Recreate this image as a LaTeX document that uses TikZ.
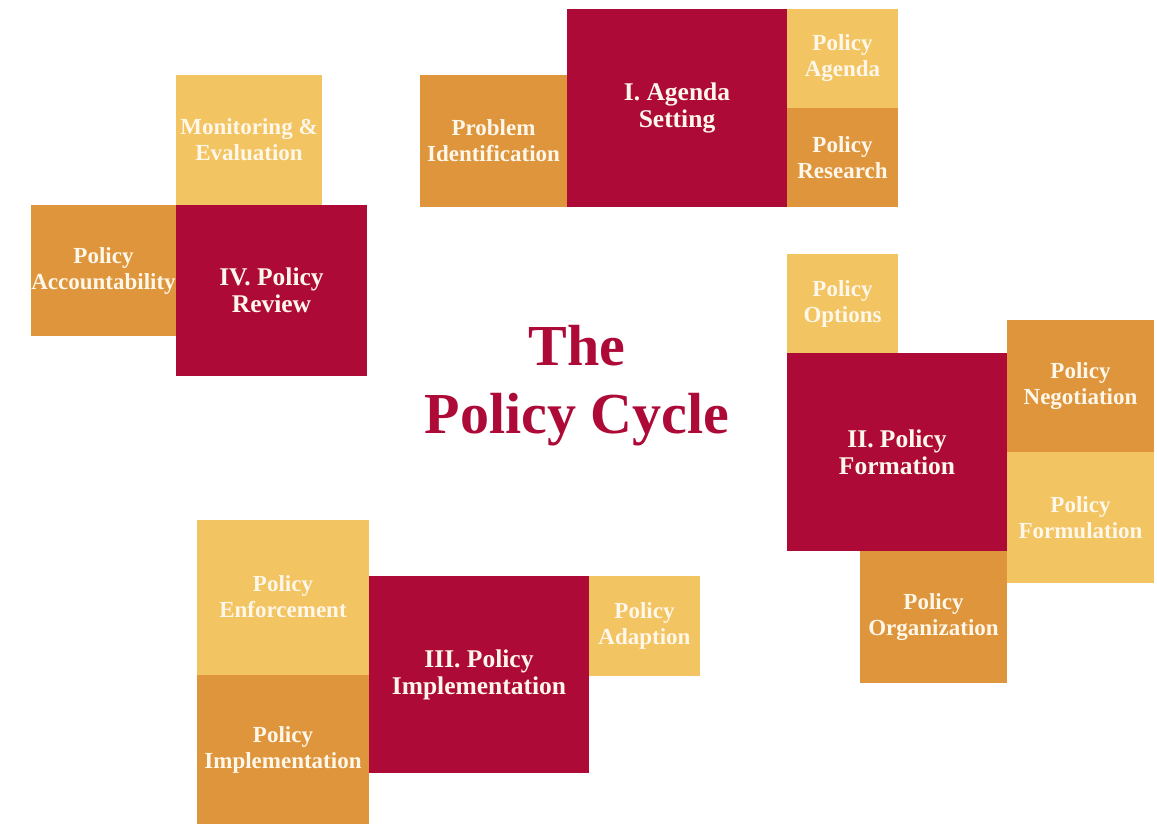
\documentclass[tikz,border=0pt]{standalone}
\usepackage{fontspec}
\setmainfont{Liberation Serif}
\usetikzlibrary{positioning}
\definecolor{cyclered}{HTML}{AD0A38}
\definecolor{cycleorange}{HTML}{DE953C}
\definecolor{cyclesand}{HTML}{F2C462}
\definecolor{cycletext}{HTML}{FFF7EA}
\tikzset{
	% Box styles for the cycle: big stage boxes and smaller step boxes
	stage box/.style={rectangle,fill=cyclered,text=cycletext,inner sep=0,outer sep=0,minimum width=220pt,minimum height=198pt,align=center,font=\bfseries\fontsize{25.5}{27}\selectfont},
	step box/.style={rectangle,text=cycletext,inner sep=0,outer sep=0,align=center,font=\bfseries\fontsize{23}{26}\selectfont},
	dark step/.style={step box,fill=cycleorange},
	light step/.style={step box,fill=cyclesand}
}

\begin{document}
\begin{tikzpicture}[x=1pt,y=-1pt]
			\useasboundingbox (0,0) rectangle (1157,823);
			% Title in the middle
			\node(title)[text=cyclered,align=center,font=\bfseries\fontsize{58}{68}\selectfont] at (577,386) {The\\Policy Cycle};
			
			% I. Agenda setting
			\node(agenda)[stage box] at (677,108) {I. Agenda\\Setting};
			\node(problem)[dark step,minimum width=147pt,minimum height=132pt,above left=0pt of agenda.south west] {Problem\\Identification};
			\node(pagenda)[light step,minimum width=111pt,minimum height=99pt,below right=0pt of agenda.north east] {Policy\\Agenda};
			\node(presearch)[dark step,minimum width=111pt,minimum height=99pt,above right=0pt of agenda.south east] {Policy\\Research};
			
			% II. Policy formation
			\node(formation)[stage box] at (897,452) {II. Policy\\Formation};
			\node(options)[light step,minimum width=111pt,minimum height=99pt,above right=0pt of formation.north west] {Policy\\Options};
			\node(negotiation)[dark step,minimum width=147pt,minimum height=132pt,above right=0pt of formation.east] {Policy\\Negotiation};
			\node(formulation)[light step,minimum width=147pt,minimum height=131pt,below=0pt of negotiation] {Policy\\Formulation};
			\node(organization)[dark step,minimum width=147pt,minimum height=132pt,below left=0pt of formation.south east] {Policy\\Organization};
			
			% III. Policy implementation
			\node(implement)[stage box,minimum height=197pt] at (479,674.5) {III. Policy\\Implementation};
			\node(enforce)[light step,minimum width=172pt,minimum height=155pt,above left=0pt of implement.west] {Policy\\Enforcement};
			\node(pimpl)[dark step,minimum width=172pt,minimum height=150pt,below left=0pt of implement.west] {Policy\\Implementation};
			\node(adaption)[light step,minimum width=111pt,minimum height=100pt,below right=0pt of implement.north east] {Policy\\Adaption};
			
			% IV. Policy review
			\node(review)[stage box,minimum width=191pt,minimum height=171pt] at (271.5,290.5) {IV. Policy\\Review};
			\node(monitor)[light step,minimum width=146pt,minimum height=130pt,above right=0pt of review.north west] {Monitoring \&\\Evaluation};
			\node(account)[dark step,minimum width=145pt,minimum height=131pt,below left=0pt of review.north west] {Policy\\Accountability};
\end{tikzpicture}
\end{document}
